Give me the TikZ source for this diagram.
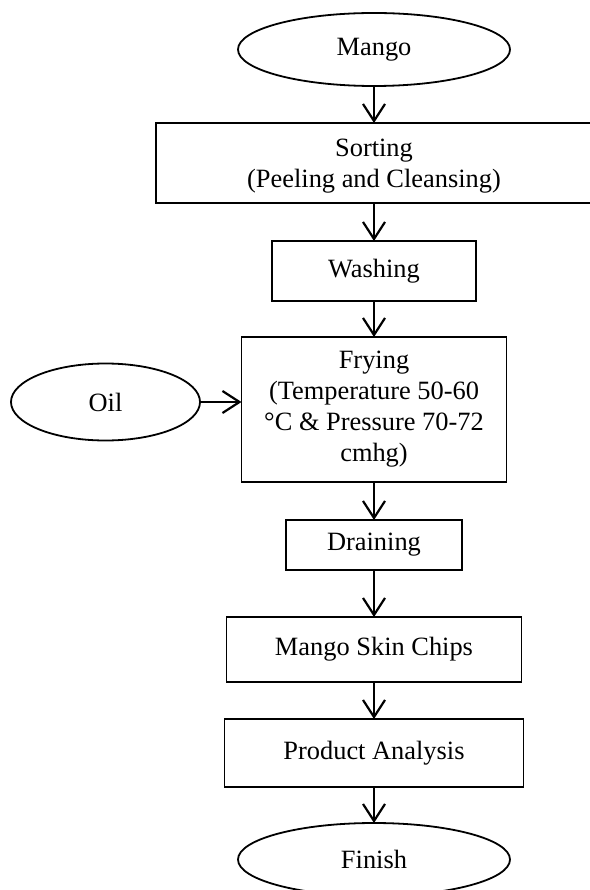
\documentclass[tikz,border=0pt]{standalone}
\usepackage{fontspec}
\setmainfont{Liberation Serif}
\usetikzlibrary{arrows.meta,shapes.geometric}

\begin{document}
\begin{tikzpicture}[x=1pt, y=-1pt, line width=1.8pt,
    every node/.style={draw, outer sep=0pt, align=center, font=\fontsize{26.4}{31}\selectfont},
    proc/.style={rectangle},
    term/.style={ellipse},
    every edge/.style={draw, line width=2pt, -{Straight Barb[length=17pt, width=22pt, line width=2.2pt]}}]
      \useasboundingbox (0,0) rectangle (589,890);
      \node (1) at (374,49.5) [term, minimum width=272, minimum height=73] {Mango};
      \node (2) at (374,163) [proc, minimum width=436, minimum height=80, text depth=0pt] {Sorting\\(Peeling and Cleansing)};
      \node (3) at (374,271) [proc, minimum width=204, minimum height=60] {Washing};
      \node (4) at (374,409.5) [proc, minimum width=265, minimum height=145] {Frying\\(Temperature 50-60\\°C \& Pressure 70-72\\cmhg)};
      \node (5) at (374,545) [proc, minimum width=176, minimum height=50] {Draining};
      \node (6) at (374,649.5) [proc, minimum width=295, minimum height=65] {Mango Skin Chips};
      \node (7) at (374,753) [proc, minimum width=299, minimum height=68] {Product Analysis};
      \node (8) at (374,859.5) [term, minimum width=272, minimum height=73] {Finish};
      \node (9) at (105.5,402) [term, minimum width=189, minimum height=77] {Oil};
      \foreach \source/\dest in {1/2, 2/3, 3/4, 4/5, 5/6, 6/7, 7/8}
        \path (\source) edge (\dest);
      \path (9) edge (9 -| 4.west);
    \end{tikzpicture}
\end{document}
